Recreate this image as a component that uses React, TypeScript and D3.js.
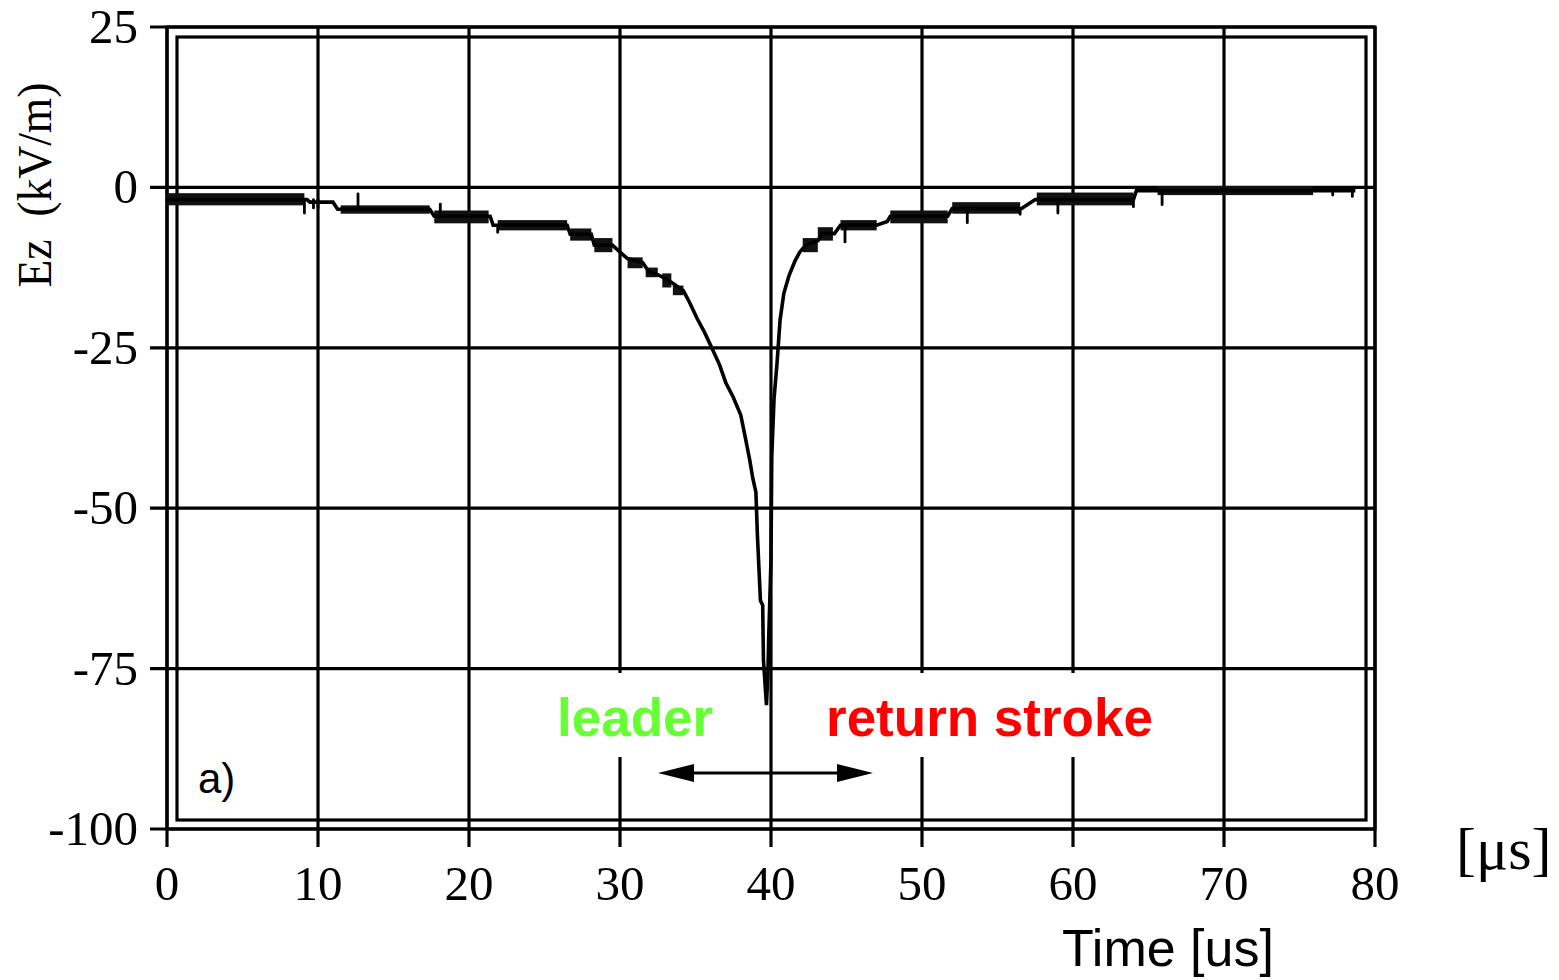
import React from "react";
import * as d3 from "d3";

// ---- data (time in µs, field in kV/m) ----
const xTicks = [0, 10, 20, 30, 40, 50, 60, 70, 80];
const yTicks = [25, 0, -25, -50, -75, -100];
const yTickLabels = ["25", "0", "-25", "-50", "-75", "-100"];

const traceT = [
  0, 9.27, 9.47, 10.99, 11.3, 17.4, 17.7, 21.4, 21.6, 26.5, 26.7, 28.1, 28.3, 29.5,
  30.0, 30.5, 31.5, 31.9, 32.6, 33.4, 34.2, 34.6, 35.1, 35.6, 36.1, 36.6, 37.0,
  37.5, 38.0, 38.3, 38.6, 38.8, 39.0, 39.1, 39.3, 39.45, 39.5, 39.7, 39.8, 39.85,
  40.0, 40.05, 40.2, 40.4, 40.6, 40.85, 41.2, 41.6, 41.9, 42.3, 43.1, 43.4, 44.2,
  44.6, 47.0, 47.7, 47.9, 51.7, 52.0, 56.6, 57.5, 64.0, 64.2, 65.6, 78.7,
];
const traceV = [
  -1.9, -1.9, -2.3, -2.3, -3.4, -3.4, -4.5, -4.5, -5.9, -5.9, -7.3, -7.3, -9.0, -9.0,
  -10.1, -11.1, -11.7, -13.1, -13.7, -14.8, -16.1, -17.9, -20.4, -22.6, -25.1, -27.7, -30.4,
  -32.7, -35.5, -39.0, -42.6, -45.4, -47.5, -54.2, -64.4, -65.1, -73.7, -80.7, -75.3, -70,
  -58, -42, -33, -27.4, -20.7, -16.5, -13.7, -11.4, -10.1, -9.0, -8.3, -7.2, -7.2,
  -5.9, -5.9, -5.3, -4.5, -4.5, -3.3, -3.3, -1.9, -1.9, -0.5, -0.5, -0.5,
];

// noisy (quantised) stretches: start, end, upper level, lower level
const bandStart = [0, 11.5, 17.7, 21.9, 26.7, 28.3, 30.5, 31.7, 32.8, 33.5, 42.1, 43.1, 44.6, 47.9, 52.0, 57.6, 65.6];
const bandEnd = [9.1, 17.4, 21.3, 26.5, 28.1, 29.5, 31.5, 32.5, 33.4, 34.2, 43.1, 44.1, 47.0, 51.7, 56.5, 64.0, 75.9];
const bandHigh = [-0.9, -2.8, -3.6, -5.1, -6.4, -7.9, -10.9, -12.5, -13.4, -15.3, -7.9, -6.2, -5.1, -3.6, -2.3, -0.8, 0.2];
const bandLow = [-2.8, -4.1, -5.6, -6.7, -8.3, -10.1, -12.6, -14.0, -15.6, -16.8, -10.1, -8.3, -6.7, -5.6, -4.1, -2.8, -1.2];

// isolated glitches: time, from, to
const spikeT = [9.1, 9.7, 10.0, 12.65, 18.1, 21.9, 44.9, 53.0, 56.5, 59.0, 64.0, 65.9, 77.2, 78.5];
const spikeFrom = [-1.9, -1.9, -1.9, -3.4, -4.5, -5.9, -6.2, -3.3, -3.3, -1.9, -1.9, -0.5, -0.5, -0.5];
const spikeTo = [-4.0, -3.2, -3.2, -1.0, -2.6, -7.0, -8.5, -5.5, -4.2, -4.0, -3.0, -2.7, -1.2, -1.4];

const W = 1559;
const H = 980;

export default function App() {
  const x = d3.scaleLinear().domain([0, 80]).range([167, 1375]);
  const y = d3.scaleLinear().domain([25, -100]).range([27, 829]);

  const line = d3
    .line<number>()
    .x((_, i) => x(traceT[i]))
    .y((d) => y(d));
  const tracePath = line(traceV) || "";

  const x0 = x(0);
  const x1 = x(80);
  const yTop = y(25);
  const yBot = y(-100);
  const serif = "'Liberation Serif', 'Times New Roman', serif";
  const sans = "'Liberation Sans', Arial, sans-serif";
  const lw = 3.2;

  const arrowY = 773;
  const aL = 658;
  const aR = 873;

  return (
    <svg
      width={W}
      height={H}
      viewBox={`0 0 ${W} ${H}`}
      style={{ position: "absolute", left: 0, top: 0, display: "block", background: "#fff" }}
    >
      <rect x={0} y={0} width={W} height={H} fill="#fff" />

      {/* vertical grid lines + ticks */}
      {xTicks.map((t) => (
        <line key={"vx" + t} x1={x(t)} x2={x(t)} y1={yTop} y2={yBot + 18} stroke="#000" strokeWidth={lw} />
      ))}
      {/* horizontal grid lines + ticks */}
      {yTicks.map((t) => (
        <line key={"hy" + t} x1={x0 - 17} x2={x1} y1={y(t)} y2={y(t)} stroke="#000" strokeWidth={lw} />
      ))}

      {/* white boxes behind annotations */}
      <rect x={545} y={673} width={212} height={84} fill="#fff" />
      <rect x={800} y={673} width={365} height={84} fill="#fff" />

      {/* double frame */}
      <rect x={x0} y={yTop} width={x1 - x0} height={yBot - yTop} fill="none" stroke="#000" strokeWidth={lw} />
      <rect x={x0 + 10} y={yTop + 10} width={x1 - x0 - 19} height={yBot - yTop - 19} fill="none" stroke="#000" strokeWidth={lw} />

      {/* noisy bands */}
      {bandStart.map((s, i) => (
        <rect
          key={"b" + i}
          x={x(s)}
          y={y(bandHigh[i])}
          width={x(bandEnd[i]) - x(s)}
          height={y(bandLow[i]) - y(bandHigh[i])}
          fill="#111"
        />
      ))}
      {/* spikes */}
      {spikeT.map((t, i) => (
        <line
          key={"s" + i}
          x1={x(t)}
          x2={x(t)}
          y1={y(spikeFrom[i])}
          y2={y(spikeTo[i])}
          stroke="#000"
          strokeWidth={2.8}
          strokeLinecap="round"
        />
      ))}
      {/* trace */}
      <path d={tracePath} fill="none" stroke="#000" strokeWidth={3.6} strokeLinejoin="miter" />

      {/* arrow */}
      <line x1={aL + 30} x2={aR - 30} y1={arrowY} y2={arrowY} stroke="#000" strokeWidth={3.2} />
      <path d={`M${aL},${arrowY} L${aL + 36},${arrowY - 9} L${aL + 36},${arrowY + 9} Z`} fill="#000" />
      <path d={`M${aR},${arrowY} L${aR - 36},${arrowY - 9} L${aR - 36},${arrowY + 9} Z`} fill="#000" />

      {/* annotations */}
      <text x={557} y={736} fontFamily={sans} fontWeight="bold" fontSize={53} fill="#66ff33">
        leader
      </text>
      <text x={826} y={736} fontFamily={sans} fontWeight="bold" fontSize={53} fill="#ff0000">
        return stroke
      </text>
      <text x={198} y={793} fontFamily={sans} fontSize={42} fill="#000">
        a)
      </text>

      {/* y tick labels */}
      {yTicks.map((t, i) => (
        <text
          key={"yl" + t}
          x={138}
          y={y(t) + 16}
          textAnchor="end"
          fontFamily={serif}
          fontSize={49}
          fill="#000"
        >
          {yTickLabels[i]}
        </text>
      ))}
      {/* x tick labels */}
      {xTicks.map((t) => (
        <text key={"xl" + t} x={x(t)} y={900} textAnchor="middle" fontFamily={serif} fontSize={49} fill="#000">
          {t}
        </text>
      ))}

      {/* axis titles */}
      <text
        transform="translate(51,185) rotate(-90)"
        textAnchor="middle"
        fontFamily={serif}
        fontSize={48}
        textLength={205}
        lengthAdjust="spacingAndGlyphs"
        fill="#000"
        style={{ whiteSpace: "pre" }}
      >
        {"Ez  (kV/m)"}
      </text>
      <text x={1456} y={869} fontFamily={serif} fontSize={60} fill="#000">
        [μs]
      </text>
      <text x={1062} y={966} fontFamily={sans} fontSize={52} fill="#000">
        Time [us]
      </text>
    </svg>
  );
}
